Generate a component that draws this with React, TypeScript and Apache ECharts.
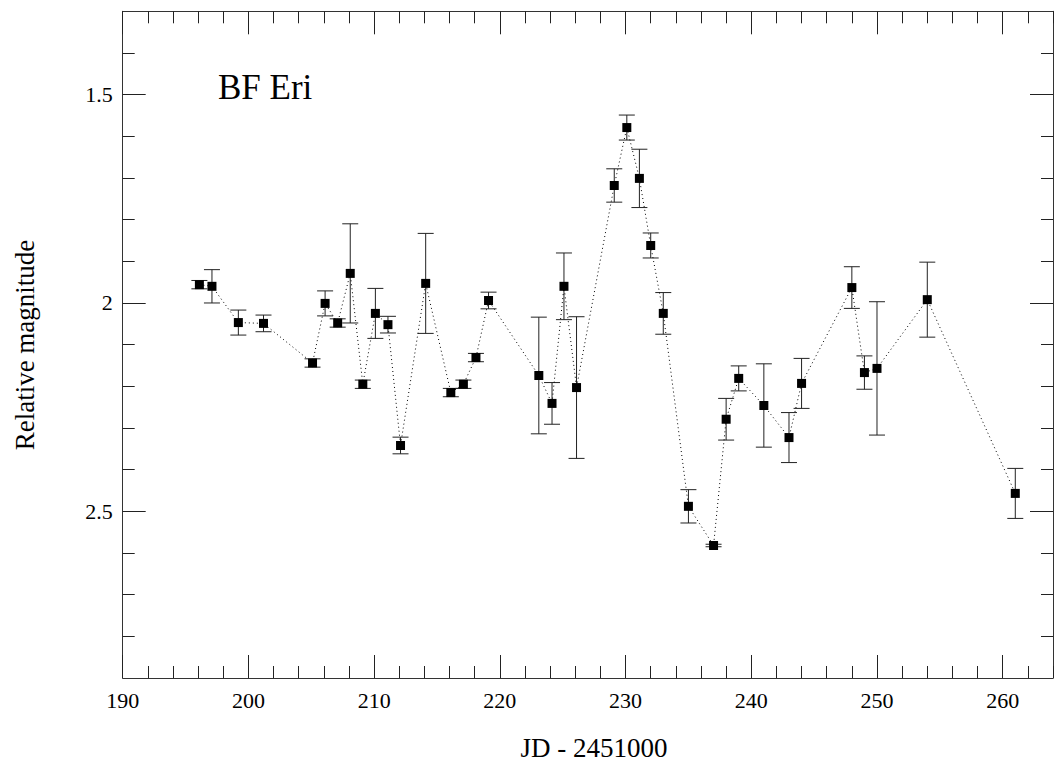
import React, { useEffect, useRef } from "react";
import * as echarts from "echarts";

// JD - 2451000
const jd = [
  196.1, 197.1, 199.2, 201.2, 205.1, 206.1, 207.1, 208.1, 209.1, 210.1,
  211.1, 212.1, 214.1, 216.1, 217.1, 218.1, 219.1, 223.1, 224.15, 225.1,
  226.1, 229.1, 230.1, 231.1, 232.0, 233.0, 235.0, 237.0, 238.0, 239.0,
  241.0, 243.0, 244.0, 248.0, 249.0, 250.0, 254.0, 261.0,
];
// Relative magnitude
const mag = [
  1.956, 1.96, 2.047, 2.049, 2.144, 2.001, 2.048, 1.929, 2.195, 2.025,
  2.052, 2.342, 1.953, 2.215, 2.195, 2.131, 1.994, 2.174, 2.241, 1.96,
  2.203, 1.718, 1.579, 1.701, 1.862, 2.025, 2.488, 2.582, 2.279, 2.181,
  2.246, 2.323, 2.193, 1.963, 2.167, 2.157, 1.992, 2.457,
];
// Error (half-length of error bar)
const err = [
  0.01, 0.04, 0.03, 0.02, 0.01, 0.03, 0.01, 0.119, 0.01, 0.06,
  0.02, 0.02, 0.12, 0.01, 0.01, 0.01, 0.02, 0.14, 0.05, 0.08,
  0.17, 0.04, 0.03, 0.07, 0.03, 0.05, 0.04, 0.003, 0.05, 0.03,
  0.1, 0.06, 0.06, 0.05, 0.04, 0.16, 0.09, 0.06,
];

const xMajorTicks = [190, 200, 210, 220, 230, 240, 250, 260];
const xMinorTicks = [
  192, 194, 196, 198, 202, 204, 206, 208, 212, 214, 216, 218, 222, 224, 226, 228,
  232, 234, 236, 238, 242, 244, 246, 248, 252, 254, 256, 258, 262, 264,
];
const yMajorTicks = [1.5, 2, 2.5];
const yMinorTicks = [1.4, 1.6, 1.7, 1.8, 1.9, 2.1, 2.2, 2.3, 2.4, 2.6, 2.7, 2.8];

const X_MIN = 190;
const X_MAX = 264;
const Y_MIN = 1.3;
const Y_MAX = 2.9;

const FONT = "'Liberation Serif', 'Times New Roman', serif";

export default function App() {
  const ref = useRef<HTMLDivElement>(null);

  useEffect(() => {
    if (!ref.current) return;
    const chart = echarts.init(ref.current, undefined, { renderer: "svg" });

    const axisLineStyle = { color: "#333", width: 1 };
    const mkX = (position: string, major: boolean, labels: boolean) => ({
      type: "value",
      position,
      min: X_MIN,
      max: X_MAX,
      axisLine: { show: major, onZero: false, lineStyle: axisLineStyle },
      axisTick: {
        show: true,
        inside: true,
        length: major ? 23 : 12,
        customValues: major ? xMajorTicks : xMinorTicks,
        lineStyle: { color: "#222", width: 1 },
      },
      axisLabel: {
        show: labels,
        customValues: xMajorTicks,
        margin: 11,
        color: "#000",
        fontFamily: FONT,
        fontSize: 22,
      },
      splitLine: { show: false },
    });
    const mkY = (position: string, major: boolean, labels: boolean) => ({
      type: "value",
      position,
      min: Y_MIN,
      max: Y_MAX,
      inverse: true,
      axisLine: { show: major, onZero: false, lineStyle: axisLineStyle },
      axisTick: {
        show: true,
        inside: true,
        length: major ? 23 : 12,
        customValues: major ? yMajorTicks : yMinorTicks,
        lineStyle: { color: "#222", width: 1 },
      },
      axisLabel: {
        show: labels,
        customValues: yMajorTicks,
        margin: 10,
        color: "#000",
        fontFamily: FONT,
        fontSize: 22,
        formatter: (v: number) => String(v),
      },
      splitLine: { show: false },
    });

    const points = jd.map((x, i) => [x, mag[i]]);
    const bars = jd.map((x, i) => [x, mag[i], err[i]]);

    chart.setOption({
      animation: false,
      backgroundColor: "#fff",
      grid: { left: 122.7, right: 5, top: 11.3, bottom: 88, containLabel: false },
      xAxis: [
        mkX("bottom", true, true),
        mkX("bottom", false, false),
        mkX("top", true, false),
        mkX("top", false, false),
      ],
      yAxis: [
        mkY("left", true, true),
        mkY("left", false, false),
        mkY("right", true, false),
        mkY("right", false, false),
      ],
      graphic: [
        {
          type: "text",
          left: 218,
          top: 70,
          style: { text: "BF Eri", fontFamily: FONT, fontSize: 35, fill: "#000" },
        },
        {
          type: "text",
          x: 594,
          y: 748,
          style: {
            text: "JD - 2451000",
            fontFamily: FONT,
            fontSize: 27,
            fill: "#000",
            align: "center",
            verticalAlign: "middle",
          },
        },
        {
          type: "text",
          x: 25,
          y: 345,
          rotation: Math.PI / 2,
          style: {
            text: "Relative magnitude",
            fontFamily: FONT,
            fontSize: 27,
            fill: "#000",
            align: "center",
            verticalAlign: "middle",
          },
        },
      ],
      series: [
        {
          type: "custom",
          xAxisIndex: 0,
          yAxisIndex: 0,
          z: 2,
          data: bars,
          renderItem: (params: any, api: any) => {
            const x = api.value(0);
            const y = api.value(1);
            const e = api.value(2);
            const top = api.coord([x, y - e]);
            const bot = api.coord([x, y + e]);
            const hw = 8;
            const st = { stroke: "#222", lineWidth: 1 };
            return {
              type: "group",
              children: [
                { type: "line", shape: { x1: top[0], y1: top[1], x2: bot[0], y2: bot[1] }, style: st },
                { type: "line", shape: { x1: top[0] - hw, y1: top[1], x2: top[0] + hw, y2: top[1] }, style: st },
                { type: "line", shape: { x1: bot[0] - hw, y1: bot[1], x2: bot[0] + hw, y2: bot[1] }, style: st },
              ],
            };
          },
        },
        {
          type: "line",
          xAxisIndex: 0,
          yAxisIndex: 0,
          z: 3,
          data: points,
          symbol: "rect",
          symbolSize: 9,
          itemStyle: { color: "#000" },
          lineStyle: { color: "#000", width: 1, type: [1, 3] },
        },
      ],
    });

    return () => chart.dispose();
  }, []);

  return (
    <div
      ref={ref}
      style={{ position: "absolute", left: 0, top: 0, width: 1058, height: 766, background: "#fff" }}
    />
  );
}
